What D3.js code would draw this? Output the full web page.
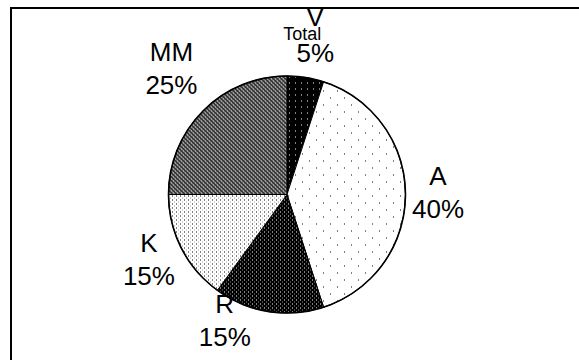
<!DOCTYPE html>
<html>
<head>
<meta charset="utf-8">
<script src="https://cdn.jsdelivr.net/npm/d3@7"></script>
<style>
  html, body { margin: 0; padding: 0; background: #fff; }
  svg { display: block; }
  text { font-family: "Liberation Sans", Arial, sans-serif; fill: #000; }
</style>
</head>
<body>
<svg id="chart" width="579" height="360"></svg>
<script>
// ---- data ----
const categories = ["V", "A", "R", "K", "MM"];
const values = [5, 40, 15, 15, 25];
const percentLabels = ["5%", "40%", "15%", "15%", "25%"];
const subLabels = ["Total", "", "", "", ""];

// ---- layout ----
const W = 579, H = 360;
const cx = 287, cy = 194.5, R = 118.5;
const svg = d3.select("#chart");

// patterns
const defs = svg.append("defs");
function pat(id, size, bg, dots) {
  const p = defs.append("pattern").attr("id", id).attr("patternUnits", "userSpaceOnUse")
    .attr("width", size).attr("height", size);
  p.append("rect").attr("width", size).attr("height", size).attr("fill", bg);
  dots.forEach(d => p.append("rect").attr("x", d[0]).attr("y", d[1])
    .attr("width", d[2] || 1).attr("height", d[3] || 1).attr("fill", d[4]).attr("shape-rendering", "crispEdges"));
}
pat("pV", 6, "#000", [[2, 2, 1, 1, "#fff"]]);
pat("pA", 14, "#fff", [[1, 1, 1, 1, "#000"], [8, 8, 1, 1, "#000"]]);
pat("pR", 4, "#000", [[1, 1, 1, 1, "#fff"], [3, 3, 1, 1, "#888"]]);
pat("pK", 4, "#fff", [[1, 1, 1, 1, "#000"], [3, 3, 1, 1, "#999"]]);
pat("pMM", 4, "#3a3a3a", [[0, 0, 1, 1, "#fff"], [2, 2, 1, 1, "#fff"], [1, 1, 1, 1, "#aaa"], [3, 3, 1, 1, "#aaa"]]);
const fills = { V: "url(#pV)", A: "url(#pA)", R: "url(#pR)", K: "url(#pK)", MM: "url(#pMM)" };

// frame
svg.append("line").attr("x1", 10).attr("x2", W).attr("y1", 8).attr("y2", 8)
  .attr("stroke", "#000").attr("stroke-width", 2);
svg.append("line").attr("x1", 11).attr("x2", 11).attr("y1", 7).attr("y2", H)
  .attr("stroke", "#000").attr("stroke-width", 2);

const data = categories.map((c, i) => ({ cat: c, value: values[i], pct: percentLabels[i], sub: subLabels[i] }));
const pie = d3.pie().value(d => d.value).sort(null);
const arcs = pie(data);
const arc = d3.arc().innerRadius(0).outerRadius(R);
const labelArc = d3.arc().innerRadius(155).outerRadius(155);

const g = svg.append("g").attr("transform", `translate(${cx},${cy})`);
g.selectAll("path.slice").data(arcs).enter().append("path")
  .attr("class", "slice")
  .attr("d", arc)
  .attr("fill", d => fills[d.data.cat])
  .attr("stroke", "#000").attr("stroke-width", 1);
g.append("circle").attr("r", R).attr("fill", "none").attr("stroke", "#000").attr("stroke-width", 1.6);

// label nudges (layout only)
const nudge = { V: [2, 0], A: [-4, -3.5], R: [-38, -28.6], K: [0, -7], MM: [-6, -18] };
const fs = 26;
arcs.forEach(d => {
  const c = labelArc.centroid(d);
  const n = nudge[d.data.cat];
  const x = c[0] + n[0], y = c[1] + n[1];
  const lg = g.append("g").attr("transform", `translate(${x},${y})`);
  if (d.data.sub) {
    lg.append("text").attr("x", 2).attr("y", -15).attr("text-anchor", "middle")
      .attr("font-size", fs).text(d.data.cat);
    lg.append("text").attr("x", -11).attr("y", -1).attr("text-anchor", "middle")
      .attr("font-size", 18).text(d.data.sub);
    lg.append("text").attr("x", 2).attr("y", 21).attr("text-anchor", "middle")
      .attr("font-size", fs).text(d.data.pct);
  } else {
    lg.append("text").attr("x", 0).attr("y", -6).attr("text-anchor", "middle")
      .attr("font-size", fs).text(d.data.cat);
    lg.append("text").attr("x", 0).attr("y", 27).attr("text-anchor", "middle")
      .attr("font-size", fs).text(d.data.pct);
  }
});
</script>
</body>
</html>
